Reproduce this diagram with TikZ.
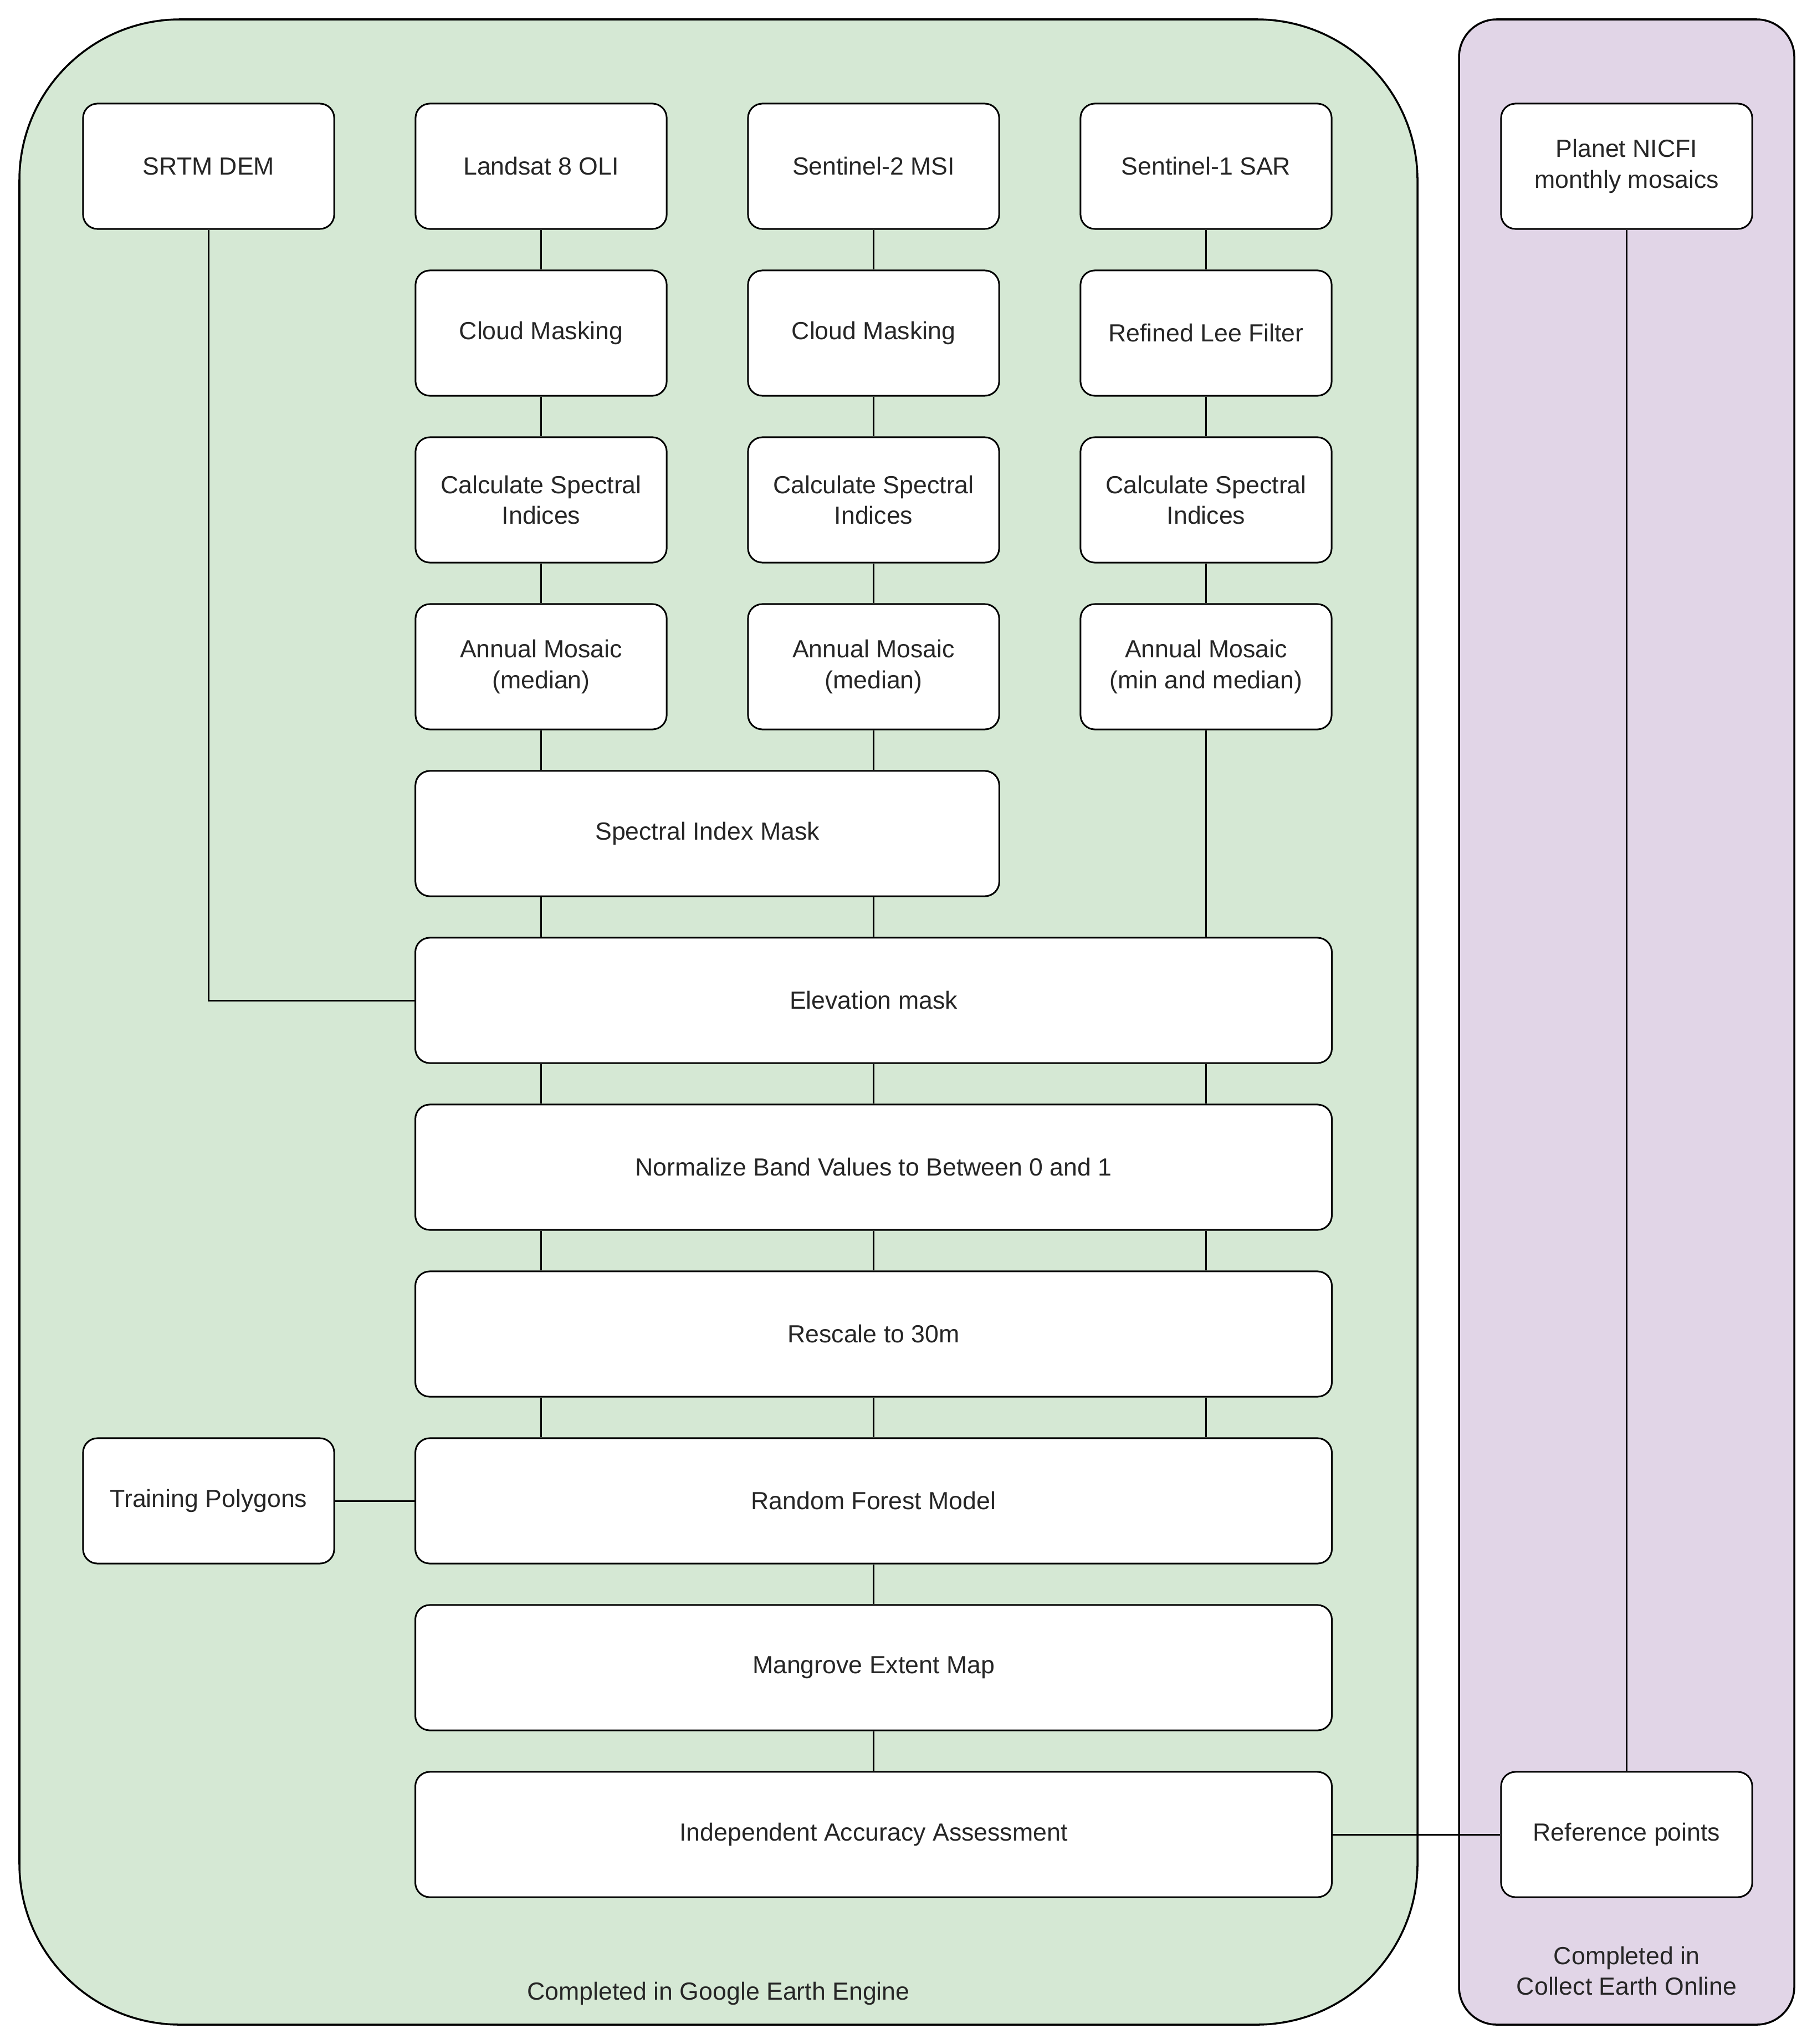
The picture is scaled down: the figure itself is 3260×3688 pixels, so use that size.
\documentclass[tikz,border=0pt]{standalone}
\usepackage{fontspec}
\setmainfont{Liberation Sans}
\definecolor{geegreen}{HTML}{D5E8D4}
\definecolor{ceopurple}{HTML}{E1D5E7}

\begin{document}
\begin{tikzpicture}[x=0.01cm, y=-0.01cm, line width=0.85pt,
    block/.style={draw, fill=white, rounded corners=0.26cm,
      minimum width=4.53cm, minimum height=2.26cm, inner sep=0pt,
      align=center, text=black!85, font=\fontsize{12.7}{15.9}\selectfont},
    wideblock/.style={block, minimum width=16.53cm},
    midblock/.style={block, minimum width=10.53cm},
    grouptext/.style={align=center, text=black!85, font=\fontsize{12.7}{15.9}\selectfont}]
    \useasboundingbox (0,0) rectangle (3260,3688);

    % the two platforms
    \draw[fill=geegreen, rounded corners=2.9cm, line width=1pt] (35,35) rectangle (2558,3653);
    \draw[fill=ceopurple, rounded corners=0.68cm, line width=1pt] (2633,35) rectangle (3238,3653);
    \node[grouptext, anchor=base] (geeText) at (1296.5,3608) {Completed in Google Earth Engine};
    \node[grouptext] (ceoText) at (2935.5,3556) {Completed in\\Collect Earth Online};

    % sources
    \node[block] (srtm)   at (376.5,300)  {SRTM DEM};
    \node[block] (lsat)   at (976.5,300)  {Landsat 8 OLI};
    \node[block] (stwo)   at (1576.5,300) {Sentinel-2 MSI};
    \node[block] (sone)   at (2176.5,300) {Sentinel-1 SAR};
    \node[block] (planet) at (2935.5,300) {Planet NICFI\\monthly mosaics};

    % preprocessing
    \node[block] (lsatCloud) at (976.5,601)  {Cloud Masking};
    \node[block] (stwoCloud) at (1576.5,601) {Cloud Masking};
    \node[block] (soneLee)   at (2176.5,601) {Refined Lee Filter};
    \node[block] (lsatIdx) at (976.5,902)  {Calculate Spectral\\Indices};
    \node[block] (stwoIdx) at (1576.5,902) {Calculate Spectral\\Indices};
    \node[block] (soneIdx) at (2176.5,902) {Calculate Spectral\\Indices};
    \node[block] (lsatMos) at (976.5,1203)  {Annual Mosaic\\(median)};
    \node[block] (stwoMos) at (1576.5,1203) {Annual Mosaic\\(median)};
    \node[block] (soneMos) at (2176.5,1203) {Annual Mosaic\\(min and median)};

    % classification chain
    \node[midblock]  (mask)    at (1276.5,1504) {Spectral Index Mask};
    \node[wideblock] (elev)    at (1576.5,1805) {Elevation mask};
    \node[wideblock] (norm)    at (1576.5,2106) {Normalize Band Values to Between 0 and 1};
    \node[wideblock] (rescale) at (1576.5,2407) {Rescale to 30m};
    \node[wideblock] (rf)      at (1576.5,2708) {Random Forest Model};
    \node[block]     (train)   at (376.5,2708)  {Training Polygons};
    \node[wideblock] (extent)  at (1576.5,3009) {Mangrove Extent Map};
    \node[wideblock] (acc)     at (1576.5,3310) {Independent Accuracy Assessment};
    \node[block]     (refpts)  at (2935.5,3310) {Reference points};

    % connectors
    \draw (lsat) -- (lsatCloud) -- (lsatIdx) -- (lsatMos);
    \draw (stwo) -- (stwoCloud) -- (stwoIdx) -- (stwoMos);
    \draw (sone) -- (soneLee) -- (soneIdx) -- (soneMos);
    \draw (lsatMos.south) -- (lsatMos.south |- mask.north);
    \draw (stwoMos.south) -- (stwoMos.south |- mask.north);
    \draw (mask.south -| lsat) -- (elev.north -| lsat);
    \draw (mask.south -| stwo) -- (elev.north -| stwo);
    \draw (soneMos.south) -- (soneMos.south |- elev.north);
    \draw (srtm.south) |- (elev.west);
    \foreach \c in {lsat, stwo, sone} {
      \draw (elev.south -| \c) -- (norm.north -| \c);
      \draw (norm.south -| \c) -- (rescale.north -| \c);
      \draw (rescale.south -| \c) -- (rf.north -| \c);
    }
    \draw (train) -- (rf);
    \draw (rf) -- (extent) -- (acc);
    \draw (acc) -- (refpts);
    \draw (planet) -- (refpts);
\end{tikzpicture}
\end{document}
